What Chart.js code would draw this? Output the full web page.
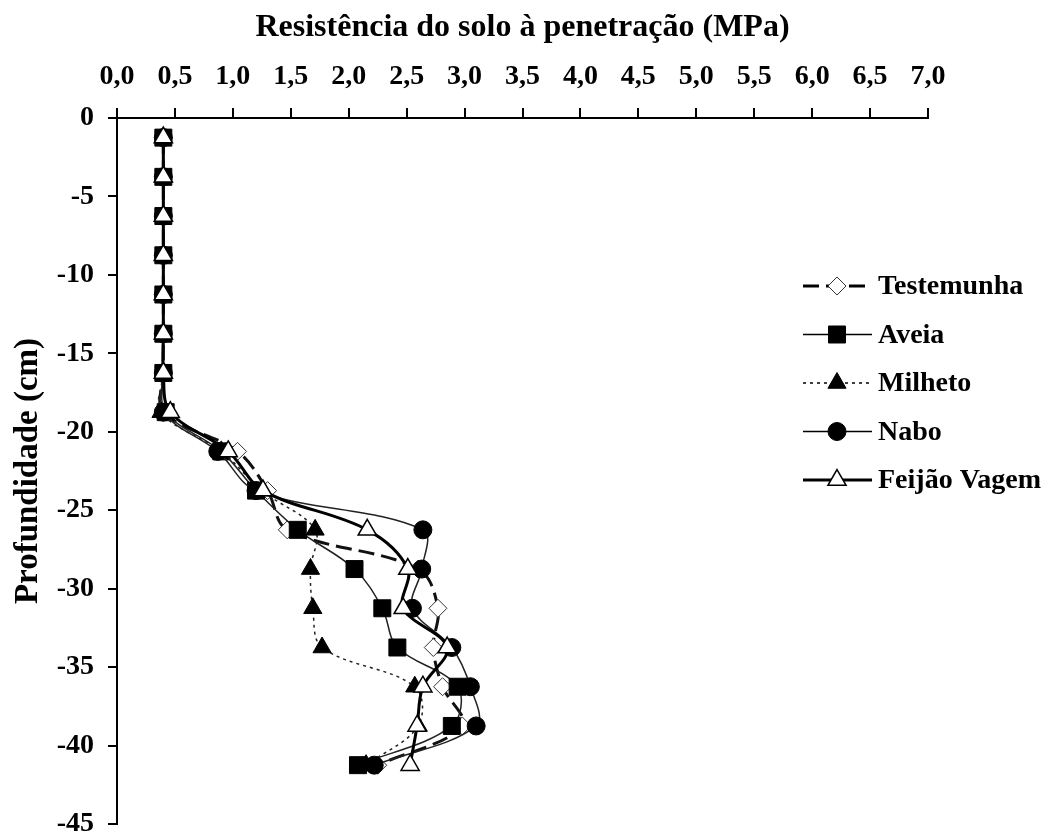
<!DOCTYPE html>
<html>
<head>
<meta charset="utf-8">
<script src="https://cdn.jsdelivr.net/npm/chart.js"></script>
<style>
  body { margin: 0; background: #fff; }
  canvas { display: block; }
</style>
</head>
<body>
<canvas id="chart" width="1057" height="834"></canvas>
<script>
// depth of each reading (cm)
const depths = [-1.25, -3.75, -6.25, -8.75, -11.25, -13.75, -16.25, -18.75, -21.25,
  -23.75, -26.25, -28.75, -31.25, -33.75, -36.25, -38.75, -41.25];

// penetration resistance (MPa) per treatment
const testemunha = [0.4, 0.4, 0.4, 0.4, 0.4, 0.4, 0.4, 0.4, 1.04, 1.3, 1.47, 2.6, 2.77, 2.73, 2.81, 2.98, 2.25];
const aveia = [0.4, 0.4, 0.4, 0.4, 0.4, 0.4, 0.4, 0.42, 0.9, 1.2, 1.56, 2.05, 2.29, 2.42, 2.94, 2.89, 2.08];
const milheto = [0.4, 0.4, 0.4, 0.4, 0.4, 0.4, 0.4, 0.38, 0.9, 1.25, 1.71, 1.67, 1.69, 1.77, 2.57, 2.6, 2.15];
const nabo = [0.4, 0.4, 0.4, 0.4, 0.4, 0.4, 0.4, 0.4, 0.87, 1.2, 2.64, 2.63, 2.55, 2.89, 3.05, 3.1, 2.22];
const feijao = [0.4, 0.4, 0.4, 0.4, 0.4, 0.4, 0.4, 0.46, 0.96, 1.26, 2.16, 2.51, 2.47, 2.85, 2.64, 2.59, 2.53];

const seriesNames = ['Testemunha', 'Aveia', 'Milheto', 'Nabo', 'Feijão Vagem'];

const serif = "'Liberation Serif', 'Times New Roman', serif";
const toPoints = vals => vals.map((v, i) => ({ x: v, y: depths[i] }));

// legend drawn inside the plot, to the right
const sideLegend = {
  id: 'sideLegend',
  afterDraw(chart) {
    const ctx = chart.ctx;
    const top = 286, gap = 48.5;
    seriesNames.forEach((name, i) => {
      const ds = chart.data.datasets.find(d => d.label === name);
      const y = top + i * gap;
      ctx.save();
      ctx.strokeStyle = '#000';
      ctx.lineWidth = ds.borderWidth;
      ctx.setLineDash(ds.borderDash || []);
      ctx.beginPath();
      ctx.moveTo(803, y);
      ctx.lineTo(872, y);
      ctx.stroke();
      ctx.setLineDash([]);
      ctx.fillStyle = ds.pointBackgroundColor;
      ctx.strokeStyle = ds.pointBorderColor;
      ctx.lineWidth = ds.pointBorderWidth;
      Chart.helpers.drawPoint(ctx, {
        pointStyle: ds.pointStyle, radius: ds.pointRadius, rotation: 0,
        borderWidth: ds.pointBorderWidth
      }, 837, y);
      ctx.fillStyle = '#000';
      ctx.font = 'bold 28px ' + serif;
      ctx.textBaseline = 'middle';
      ctx.textAlign = 'left';
      ctx.fillText(name, 878, y + 1);
      ctx.restore();
    });
  }
};

new Chart(document.getElementById('chart'), {
  type: 'scatter',
  data: {
    datasets: [
      { label: 'Testemunha', data: toPoints(testemunha), showLine: true, tension: 0.35,
        borderColor: '#111', borderWidth: 3, borderDash: [16, 7],
        pointStyle: 'rectRot', pointRadius: 9, pointBackgroundColor: '#fff',
        pointBorderColor: '#333', pointBorderWidth: 1, order: 5 },
      { label: 'Aveia', data: toPoints(aveia), showLine: true, tension: 0.35,
        borderColor: '#222', borderWidth: 1.5,
        pointStyle: 'rect', pointRadius: 12, pointBackgroundColor: '#000',
        pointBorderColor: '#000', pointBorderWidth: 1, order: 4 },
      { label: 'Milheto', data: toPoints(milheto), showLine: true, tension: 0.35,
        borderColor: '#222', borderWidth: 1.5, borderDash: [3, 4],
        pointStyle: 'triangle', pointRadius: 10.5, pointBackgroundColor: '#000',
        pointBorderColor: '#000', pointBorderWidth: 1, order: 3 },
      { label: 'Nabo', data: toPoints(nabo), showLine: true, tension: 0.35,
        borderColor: '#222', borderWidth: 1.5,
        pointStyle: 'circle', pointRadius: 9, pointBackgroundColor: '#000',
        pointBorderColor: '#000', pointBorderWidth: 1, order: 2 },
      { label: 'Feijão Vagem', data: toPoints(feijao), showLine: true, tension: 0.35,
        borderColor: '#000', borderWidth: 3,
        pointStyle: 'triangle', pointRadius: 10.5, pointBackgroundColor: '#fff',
        pointBorderColor: '#000', pointBorderWidth: 1.5, order: 1 }
    ]
  },
  options: {
    responsive: false,
    animation: false,
    layout: { autoPadding: false, padding: { right: 129, bottom: 10 } },
    plugins: {
      legend: { display: false },
      tooltip: { enabled: false }
    },
    scales: {
      x: {
        type: 'linear',
        position: 'top',
        min: 0,
        max: 7,
        ticks: {
          stepSize: 0.5,
          autoSkip: false,
          maxRotation: 0,
          padding: 14,
          color: '#000',
          font: { family: serif, size: 28, weight: 'bold' },
          callback: v => v.toFixed(1).replace('.', ',')
        },
        grid: { drawOnChartArea: false, tickLength: 10, color: '#000', lineWidth: 2 },
        border: { color: '#000', width: 2 },
        title: {
          display: true,
          text: 'Resistência do solo à penetração (MPa)',
          color: '#000',
          font: { family: serif, size: 32, weight: 'bold' },
          padding: { top: 9, bottom: 0 }
        },
        afterFit: s => { s.height = 118; }
      },
      y: {
        type: 'linear',
        min: -45,
        max: 0,
        ticks: {
          stepSize: 5,
          padding: 14,
          autoSkip: false,
          color: '#000',
          font: { family: serif, size: 28, weight: 'bold' },
          callback: v => String(v)
        },
        grid: { drawOnChartArea: false, tickLength: 9, color: '#000', lineWidth: 2 },
        border: { color: '#000', width: 2 },
        title: {
          display: true,
          text: 'Profundidade (cm)',
          color: '#000',
          font: { family: serif, size: 33, weight: 'bold' },
          padding: { top: 9, bottom: 0 }
        },
        afterFit: s => { s.width = 117; s.paddingTop = 0; s.paddingBottom = 0; }
      }
    }
  },
  plugins: [sideLegend]
});
</script>
</body>
</html>
